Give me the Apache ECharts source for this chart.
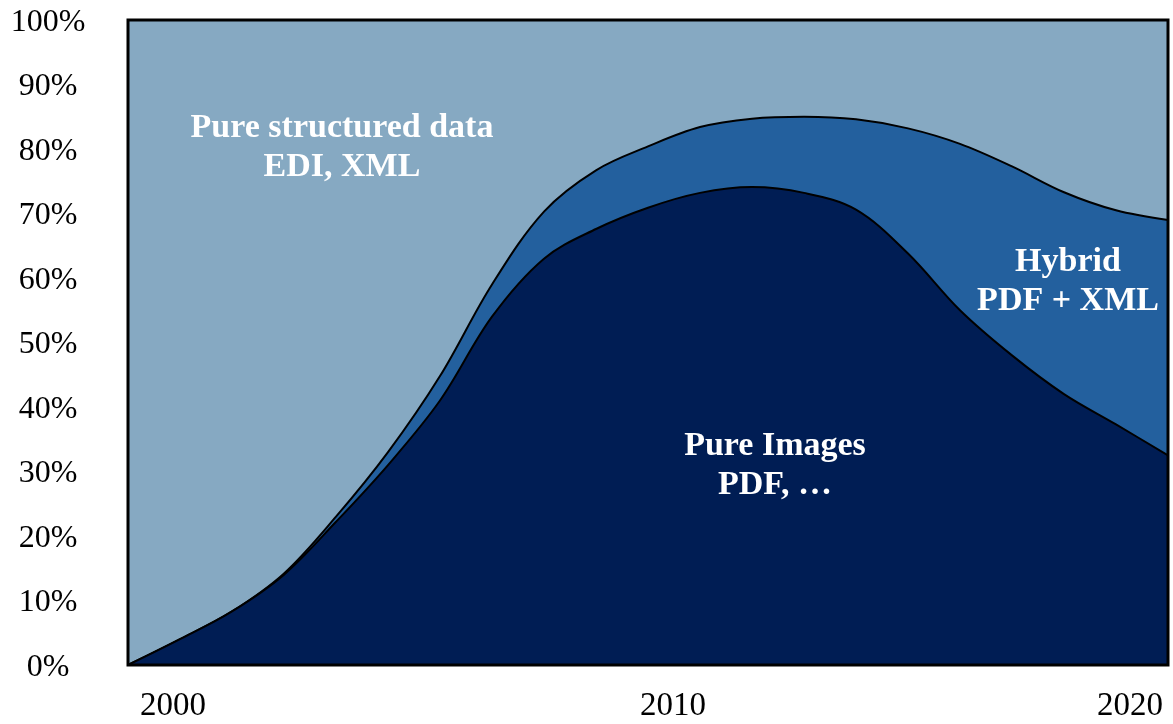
<!DOCTYPE html>
<html>
<head>
<meta charset="utf-8">
<script src="https://cdn.jsdelivr.net/npm/echarts@6/dist/echarts.min.js"></script>
<style>
  html, body { margin: 0; padding: 0; background: #fff; }
  #chart { width: 1173px; height: 724px; }
</style>
</head>
<body>
<div id="chart"></div>
<script>
// years on the x axis
const years = ["2000", "2001", "2002", "2003", "2004", "2005", "2006", "2007", "2008", "2009", "2010",
  "2011", "2012", "2013", "2014", "2015", "2016", "2017", "2018", "2019", "2020"];

// share of each format, in %
const pureImages = [0, 4.0, 8.3, 14, 22.2, 31, 41, 54, 63, 67.6, 70.9,
  73.2, 74.1, 73.2, 70.6, 63.8, 55, 48, 42, 37.3, 32.5];
const hybrid = [0, 0, 0, 0.2, 0.8, 2, 3.8, 5, 7.3, 9.1, 9.5,
  10.2, 10.6, 11.8, 14, 19.4, 25.8, 29.3, 31.3, 33.2, 36.5];
const structured = [100, 96, 91.7, 85.8, 77, 67, 55.2, 41, 29.7, 23.3, 19.6,
  16.6, 15.3, 15, 15.4, 16.8, 19.2, 22.7, 26.7, 29.5, 31];

const serif = "'Liberation Serif', 'Times New Roman', serif";

const chart = echarts.init(document.getElementById("chart"));

function areaSeries(name, values, color, z, showLine) {
  return {
    name,
    type: "line",
    stack: "total",
    data: values,
    smooth: 0.35,
    symbol: "none",
    z,
    lineStyle: { color: "#000", width: showLine ? 2 : 0 },
    areaStyle: { color, opacity: 1 },
    emphasis: { disabled: true },
  };
}

function note(text, x, y) {
  return {
    type: "text",
    z: 100,
    x,
    y,
    style: {
      text,
      fill: "#fff",
      fontFamily: serif,
      fontWeight: "bold",
      fontSize: 34,
      lineHeight: 39,
      align: "center",
      verticalAlign: "middle",
    },
  };
}

const option = {
  animation: false,
  grid: { left: 128, right: 5, top: 20, bottom: 59 },
  xAxis: {
    type: "category",
    data: years,
    boundaryGap: false,
    axisLine: { show: false },
    axisTick: { show: false },
    splitLine: { show: false },
    axisLabel: {
      interval: (i) => i % 10 === 0,
      margin: 25,
      color: "#000",
      fontFamily: serif,
      fontSize: 33,
      alignMinLabel: "left",
      alignMaxLabel: "right",
      formatter: (v) => (v === "2000" ? "{a|" + v + "}" : v === "2010" ? "{b|" + v + "}" : "{c|" + v + "}"),
      rich: {
        a: { fontFamily: serif, fontSize: 33, color: "#000", padding: [0, 0, 0, 12] },
        b: { fontFamily: serif, fontSize: 33, color: "#000", padding: [0, 0, 0, 50] },
        c: { fontFamily: serif, fontSize: 33, color: "#000", padding: [0, 5, 0, 0] },
      },
    },
  },
  yAxis: {
    type: "value",
    min: 0,
    max: 100,
    interval: 10,
    axisLine: { show: false },
    axisTick: { show: false },
    splitLine: { show: false },
    axisLabel: {
      formatter: (v) => "{p|" + v + "%}",
      align: "center",
      margin: 80,
      rich: {
        p: { fontFamily: serif, fontSize: 32, color: "#000", padding: [5, 0, 0, 0] },
      },
    },
  },
  series: [
    areaSeries("Pure Images", pureImages, "#001d54", 5, true),
    areaSeries("Hybrid", hybrid, "#23609e", 4, true),
    areaSeries("Pure structured data", structured, "#86a9c2", 3, false),
  ],
  graphic: [
    {
      type: "rect",
      z: 100,
      shape: { x: 128, y: 20, width: 1040, height: 645 },
      style: { fill: "transparent", stroke: "#000", lineWidth: 3 },
    },
    note("Pure structured data\nEDI, XML", 342, 148),
    note("Hybrid\nPDF + XML", 1068, 282),
    note("Pure Images\nPDF, \u2026", 775, 466),
  ],
};

chart.setOption(option);
</script>
</body>
</html>
